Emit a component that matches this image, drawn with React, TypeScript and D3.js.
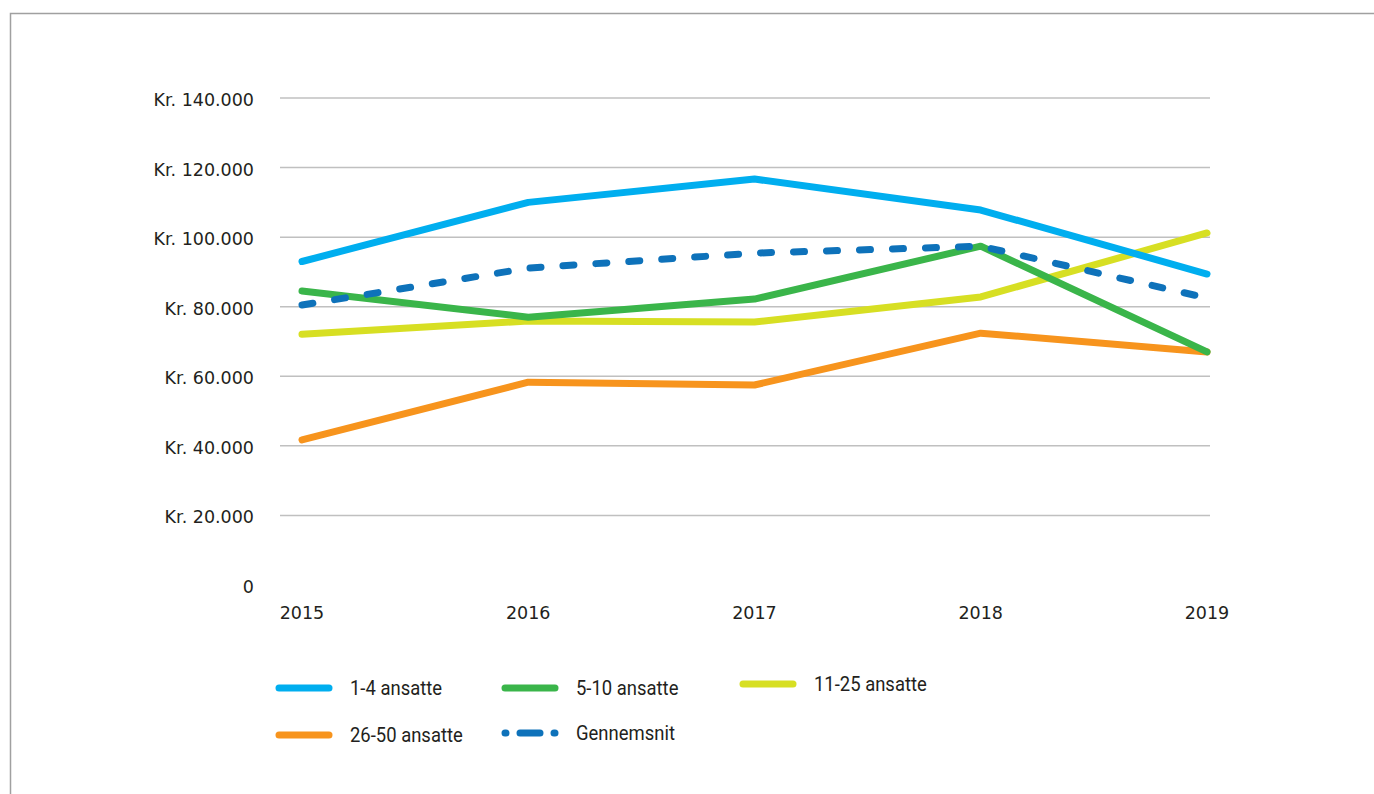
import React from 'react'
import * as d3 from 'd3'

const years = ['2015', '2016', '2017', '2018', '2019']
const yTicks = [0, 20000, 40000, 60000, 80000, 100000, 120000, 140000]

const seriesNames = ['1-4 ansatte', '5-10 ansatte', '11-25 ansatte', '26-50 ansatte', 'Gennemsnit']
const ansatte1to4 = [93000, 110000, 116700, 107800, 89400]
const ansatte5to10 = [84500, 77000, 82200, 97400, 67000]
const ansatte11to25 = [72100, 75900, 75600, 82800, 101200]
const ansatte26to50 = [41700, 58300, 57500, 72400, 67000]
const gennemsnit = [80500, 91100, 95400, 97400, 82500]

const colors = ['#00aeef', '#3ab54a', '#d7df23', '#f7941d', '#0e72ba']

const fmt = (v: number) => (v === 0 ? '0' : 'Kr. ' + d3.format(',')(v).replace(/,/g, '.'))

export default function App() {
  const width = 1374
  const height = 794

  const x = d3.scalePoint<string>().domain(years).range([302, 1207])
  const y = d3.scaleLinear().domain([0, 140000]).range([585, 98])

  const line = d3.line<number>()
    .x((d, i) => x(years[i]) as number)
    .y(d => y(d))

  const allSeries = [ansatte1to4, ansatte5to10, ansatte11to25, ansatte26to50, gennemsnit]
  // orange at the bottom, dashed average on top
  const drawOrder = [3, 2, 1, 0, 4]

  const legend = [
    { i: 0, x: 279, y: 688 },
    { i: 1, x: 505, y: 688 },
    { i: 2, x: 743, y: 684 },
    { i: 3, x: 279, y: 735 },
    { i: 4, x: 505, y: 733 },
  ]

  const labelFont = "'DejaVu Sans', sans-serif"
  const legendFont = "'Roboto', sans-serif"

  return (
    <svg width={width} height={height} style={{ position: 'absolute', left: 0, top: 0, background: '#fff' }}>
      {/* frame */}
      <path d={`M10.5,${height} L10.5,13.5 L${width},13.5`} fill="none" stroke="#a0a0a0" strokeWidth={1.5} />

      {/* gridlines */}
      {yTicks.filter(t => t > 0).map(t => (
        <line key={t} x1={280} x2={1210} y1={y(t)} y2={y(t)} stroke="#c0c0c0" strokeWidth={1.5} />
      ))}

      {/* y labels */}
      {yTicks.map(t => (
        <text key={t} x={254} y={y(t) + 8} textAnchor="end" fontFamily={labelFont}
          fontSize={17.5} fill="#231f20">{fmt(t)}</text>
      ))}

      {/* x labels */}
      {years.map(yr => (
        <text key={yr} x={x(yr) as number} y={619} textAnchor="middle" fontFamily={labelFont}
          fontSize={17.5} fill="#231f20">{yr}</text>
      ))}

      {/* lines */}
      {drawOrder.map(i => (
        <path key={i} d={line(allSeries[i]) || ''} fill="none" stroke={colors[i]} strokeWidth={7}
          strokeLinecap="round" strokeLinejoin="round"
          strokeDasharray={i === 4 ? '11 22' : undefined} />
      ))}

      {/* legend */}
      {legend.map(l => (
        <g key={l.i}>
          <line x1={l.x} x2={l.x + 50} y1={l.y} y2={l.y} stroke={colors[l.i]} strokeWidth={7}
            strokeLinecap="round" strokeDasharray={l.i === 4 ? '1 14 20 14 1' : undefined} />
          <text x={0} y={0} transform={`translate(${l.x + 71},${l.y + 7}) scale(0.9,1)`}
            fontFamily={legendFont} fontSize={20.5} fill="#231f20">{seriesNames[l.i]}</text>
        </g>
      ))}
    </svg>
  )
}
